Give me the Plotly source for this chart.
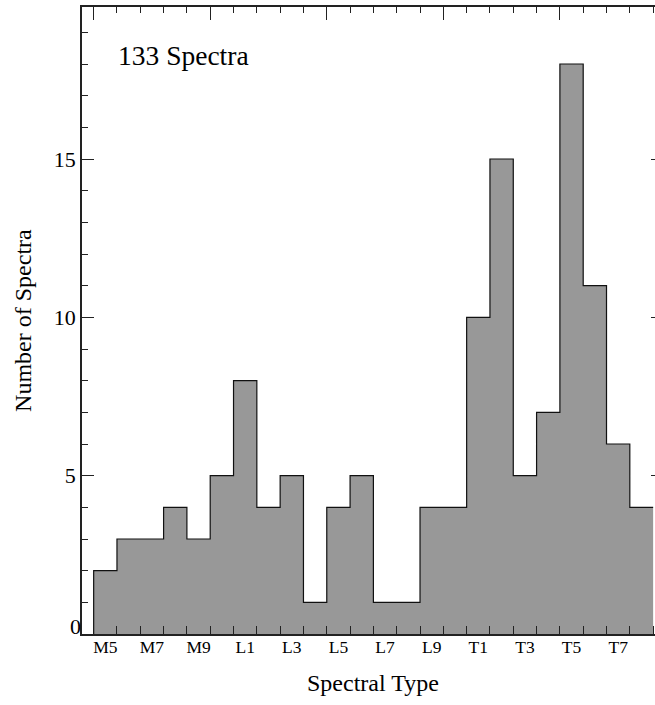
import plotly.graph_objects as go

# ---- data ----
subtypes = ["M5", "M6", "M7", "M8", "M9",
            "L0", "L1", "L2", "L3", "L4", "L5", "L6", "L7", "L8", "L9",
            "T0", "T1", "T2", "T3", "T4", "T5", "T6", "T7", "T8"]
counts = [2, 3, 3, 4, 3,
          5, 8, 4, 5, 1, 4, 5, 1, 1, 4,
          4, 10, 15, 5, 7, 18, 11, 6, 4]
tick_labels = ["M5", "M7", "M9", "L1", "L3", "L5", "L7", "L9", "T1", "T3", "T5", "T7"]
y_ticks = [5, 10, 15]
total_label = "133 Spectra"

class_offset = {"M": 0, "L": 10, "T": 20}


def num(s):
    return class_offset[s[0]] + int(s[1:])


xs = [num(s) for s in subtypes]
edges = [x - 0.5 for x in xs] + [xs[-1] + 0.5]
step_x = [edges[0]] + edges
step_y = [0] + counts + [counts[-1]]

FONT = "Liberation Serif"
AX = "#222222"
XR = [4, 28.58]
YR = [0, 19.8]

fig = go.Figure()
fig.add_trace(go.Scatter(
    x=step_x, y=step_y, mode="lines", line_shape="hv",
    line=dict(color="#111111", width=1.2),
    fill="tozeroy", fillcolor="#989898",
    showlegend=False, hoverinfo="skip"))
# helper traces so that the overlay axes render
fig.add_trace(go.Scatter(x=[None], y=[None], xaxis="x2", yaxis="y2",
                         showlegend=False, hoverinfo="skip"))
fig.add_trace(go.Scatter(x=[None], y=[None], xaxis="x3", yaxis="y3",
                         showlegend=False, hoverinfo="skip"))

fig.update_layout(
    width=655, height=705,
    margin=dict(l=82, r=0, t=7, b=71),
    paper_bgcolor="white", plot_bgcolor="white",
    font=dict(family=FONT, color="black"),
    # bottom axis: line + short ticks at bin edges, no labels
    xaxis=dict(
        range=XR, showgrid=False, zeroline=False,
        showline=True, linecolor=AX, linewidth=1.5,
        tickmode="array", tickvals=edges[1:],
        ticks="inside", ticklen=8, tickwidth=1, tickcolor=AX,
        showticklabels=False, layer="above traces",
    ),
    # bottom labels at bin centres
    xaxis3=dict(
        overlaying="x", side="bottom", anchor="y", range=XR,
        showgrid=False, zeroline=False, showline=False,
        tickmode="array", tickvals=[num(t) for t in tick_labels], ticktext=tick_labels,
        ticks="", tickfont=dict(size=17.5, family=FONT),
    ),
    # top axis
    xaxis2=dict(
        overlaying="x", side="top", anchor="y", range=XR,
        showgrid=False, zeroline=False, showline=True, linecolor=AX, linewidth=1.5,
        tickmode="array", tickvals=[4.5, 9.5, 14.5, 19.5, 24.5],
        ticks="inside", ticklen=13, tickwidth=1, tickcolor=AX,
        showticklabels=False,
        minor=dict(tickmode="array", tickvals=edges, ticks="inside",
                   ticklen=6, tickwidth=1, tickcolor=AX, showgrid=False),
    ),
    yaxis=dict(
        range=YR, showgrid=False, zeroline=False,
        showline=True, linecolor=AX, linewidth=1.5,
        tickmode="array", tickvals=y_ticks, ticktext=[str(v) for v in y_ticks],
        ticks="inside", ticklen=12, tickwidth=1, tickcolor=AX,
        tickfont=dict(size=22, family=FONT),
        minor=dict(dtick=1, tick0=0, ticks="inside", ticklen=6,
                   tickwidth=1, tickcolor=AX, showgrid=False),
    ),
    yaxis2=dict(
        overlaying="y", side="right", anchor="x2", range=YR,
        showgrid=False, zeroline=False, showline=False,
        tickmode="array", tickvals=y_ticks,
        ticks="inside", ticklen=4, tickwidth=1, tickcolor=AX,
        showticklabels=False,
    ),
    yaxis3=dict(
        overlaying="y", side="left", anchor="x3", range=YR,
        showgrid=False, zeroline=False, showline=False,
        tickmode="array", tickvals=[0.25], ticktext=["0"], ticks="",
        tickfont=dict(size=22, family=FONT),
    ),
    annotations=[
        dict(text=total_label, xref="paper", yref="paper",
             x=0.059, y=0.922, xanchor="left", yanchor="middle",
             showarrow=False, font=dict(size=27.5, family=FONT)),
        dict(text="Spectral Type", xref="x", yref="paper",
             x=16.5, y=-0.078, xanchor="center", yanchor="middle",
             showarrow=False, font=dict(size=24, family=FONT)),
        dict(text="Number of Spectra", xref="paper", yref="paper",
             x=-0.104, y=0.5, xanchor="center", yanchor="middle", textangle=-90,
             showarrow=False, font=dict(size=24, family=FONT)),
    ],
)

fig.write_html("out.html")
